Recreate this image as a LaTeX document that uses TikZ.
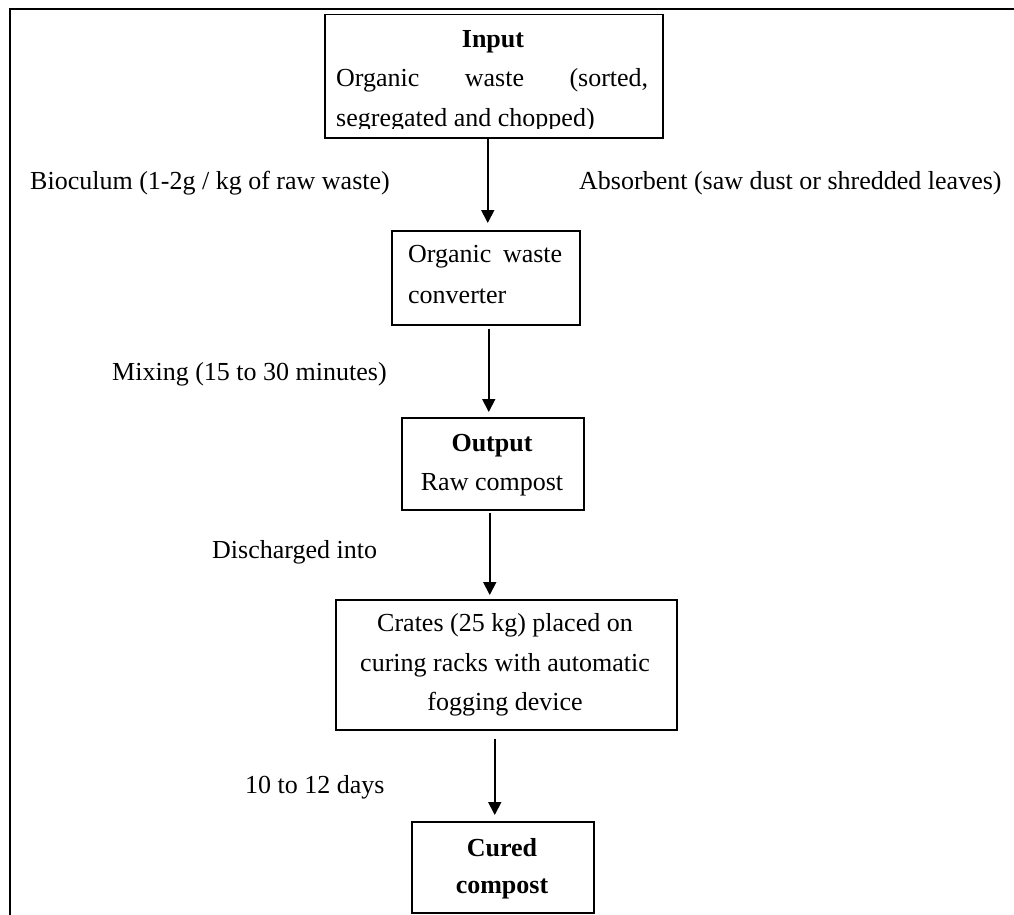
\documentclass[tikz,border=0pt]{standalone}
\usepackage{fontspec}
\setmainfont{Liberation Serif}
\usetikzlibrary{arrows.meta}
\begin{document}
\begin{tikzpicture}[x=1pt,y=-1pt,
  box/.style={draw,line width=1.5pt,inner sep=0pt,anchor=north west},
  txt/.style={inner sep=0pt,font=\fontsize{26}{30}\selectfont},
  txtb/.style={inner sep=0pt,font=\fontsize{26}{30}\selectfont\bfseries},
  arr/.style={line width=1.8pt,-{Triangle[length=13pt,width=13pt]}}]
\useasboundingbox (0,0) rectangle (1014,915);
\draw[line width=2.2pt] (10,916) -- (10,9) -- (1015,9);
% boxes
\node[box,minimum width=338pt,minimum height=123pt] (inbox) at (324,14) {};
\node[box,minimum width=188pt,minimum height=94pt] (conv) at (391,230) {};
\node[box,minimum width=182pt,minimum height=92pt] (outbox) at (401,417) {};
\node[box,minimum width=341pt,minimum height=130pt] (crates) at (335,599) {};
\node[box,minimum width=182pt,minimum height=91pt] (cured) at (411,821) {};
% box texts
\node[txtb,anchor=base] (tin) at (493,48) {Input};
\node[txt,anchor=base west] (tin2) at (336,87) {\makebox[312pt][s]{Organic waste (sorted,}};
\begin{scope}
\clip (324,14) rectangle (662,129);
\node[txt,anchor=base west] (tin3) at (336,127) {segregated and chopped)};
\end{scope}
\node[txt,anchor=base west] (tc1) at (408,262) {\makebox[154pt][s]{Organic waste}};
\node[txt,anchor=base west] (tc2) at (408,303) {converter};
\node[txtb,anchor=base] (to1) at (492,451) {Output};
\node[txt,anchor=base] (to2) at (492,490) {Raw compost};
\node[txt,anchor=base] (tr1) at (505,631) {Crates (25 kg) placed on};
\node[txt,anchor=base] (tr2) at (505,671) {curing racks with automatic};
\node[txt,anchor=base] (tr3) at (505,710) {fogging device};
\node[txtb,anchor=base] (tu1) at (502,856) {Cured};
\node[txtb,anchor=base] (tu2) at (502,893) {compost};
% labels
\node[txt,anchor=base west] (lbio) at (30,189) {Bioculum (1-2g / kg of raw waste)};
\node[txt,anchor=base west] (labs) at (579,189) {Absorbent (saw dust or shredded leaves)};
\node[txt,anchor=base west] (lmix) at (112,380) {Mixing (15 to 30 minutes)};
\node[txt,anchor=base west] (ldis) at (212,558) {Discharged into};
\node[txt,anchor=base west] (lday) at (245,793) {10 to 12 days};
% arrows
\draw[arr,shorten >=7pt] ([xshift=-6pt]inbox.south) -- ([xshift=-6pt]inbox.south |- conv.north);
\draw[arr,shorten <=3pt,shorten >=5pt] ([xshift=3pt]conv.south) -- ([xshift=3pt]conv.south |- outbox.north);
\draw[arr,shorten <=2pt,shorten >=4pt] ([xshift=-3pt]outbox.south) -- ([xshift=-3pt]outbox.south |- crates.north);
\draw[arr,shorten <=8pt,shorten >=6pt] ([xshift=-11.5pt]crates.south) -- ([xshift=-11.5pt]crates.south |- cured.north);
\end{tikzpicture}
\end{document}
